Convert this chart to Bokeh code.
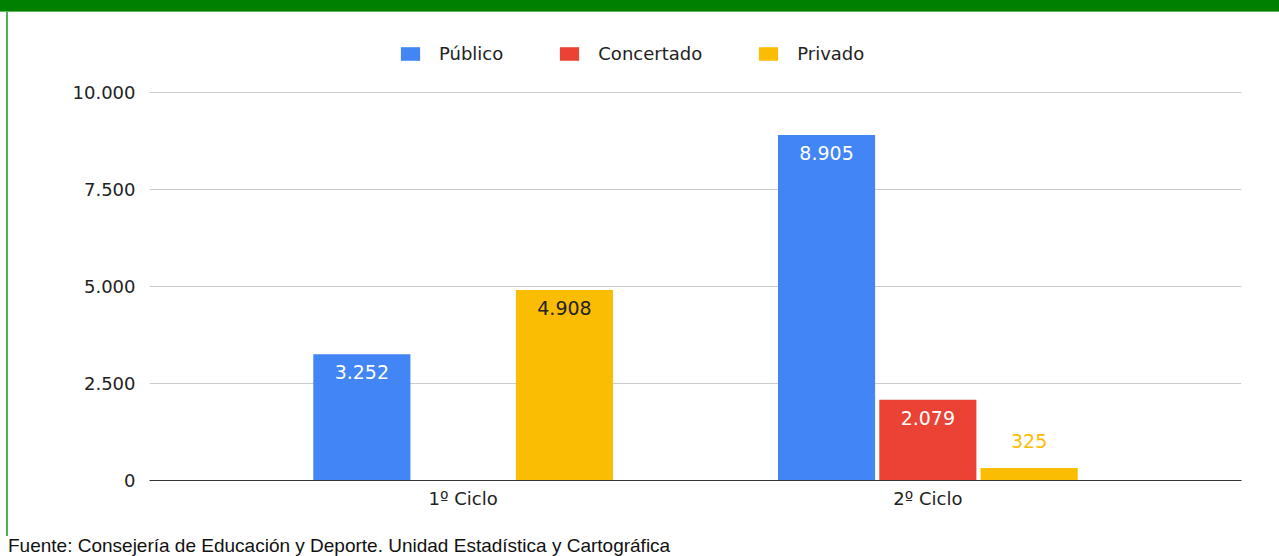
from bokeh.plotting import figure
from bokeh.layouts import column
from bokeh.models import (ColumnDataSource, FactorRange, Range1d, FixedTicker, LabelSet,
                          Legend, LegendItem, Div)
from bokeh.transform import dodge
from bokeh.embed import file_html
from bokeh.resources import INLINE
from bokeh.core.properties import value

# ---- data ----
categories = ["1º Ciclo", "2º Ciclo"]
series = ["Público", "Concertado", "Privado"]
publico = [3252, 8905]
concertado = [0, 2079]
privado = [4908, 325]
y_ticks = [0, 2500, 5000, 7500, 10000]
y_tick_labels = ["0", "2.500", "5.000", "7.500", "10.000"]
footer = "Fuente: Consejería de Educación y Deporte. Unidad Estadística y Cartográfica"

# ---- style ----
colors = ["#4285F4", "#EA4335", "#FBBC04"]
inside_text = ["#ffffff", "#ffffff", "#222222"]
offsets = [-0.218, 0.0, 0.218]
bar_w = 0.209
FONT = "DejaVu Sans"
TXT = "#222222"

W = 1279
BAND_H = 12
FOOT_H = 20
FIG_H = 556 - BAND_H - FOOT_H          # 524
BOTTOM = 56                              # space for x labels below the frame
FRAME_H = FIG_H - BOTTOM                 # frame spans from the band down to the axis
TOP_PAD = 80                             # px between frame top and the top gridline
y_end = y_ticks[-1] * FRAME_H / (FRAME_H - TOP_PAD)

fig = figure(width=W, height=FIG_H, output_backend="svg", toolbar_location=None,
             x_range=FactorRange(*categories, range_padding=0.175, range_padding_units="absolute"),
             y_range=Range1d(0, y_end),
             min_border_left=149, min_border_right=38, min_border_top=0, min_border_bottom=BOTTOM,
             outline_line_color=None, background_fill_color="white",
             border_fill_color="white", border_fill_alpha=0, margin=0)

renderers = []
for name, vals, col, tcol, off in zip(series, [publico, concertado, privado], colors, inside_text, offsets):
    txt = [("" if v == 0 else f"{v:,}".replace(",", ".")) for v in vals]
    inside = [v >= 1000 for v in vals]
    src = ColumnDataSource(dict(
        cat=categories, val=vals, txt=txt,
        yoff=[-18 if i else 27 for i in inside],
        tcol=[tcol if i else col for i in inside],
    ))
    r = fig.vbar(x=dodge("cat", off, range=fig.x_range), top="val", width=bar_w, source=src,
                 fill_color=col, line_color=None)
    renderers.append(r)
    fig.add_layout(LabelSet(x=dodge("cat", off, range=fig.x_range), y="val", text="txt", source=src,
                            y_offset="yoff", text_color="tcol", text_align="center",
                            text_baseline="middle", text_font_size="19px", text_font=value(FONT)))

# axes
fig.yaxis.ticker = FixedTicker(ticks=y_ticks)
fig.yaxis.major_label_overrides = dict(zip(y_ticks, y_tick_labels))
fig.yaxis.axis_line_color = None
fig.yaxis.major_tick_line_color = None
fig.yaxis.minor_tick_line_color = None
fig.yaxis.major_tick_out = 0
fig.yaxis.major_label_standoff = 14
fig.yaxis.major_label_text_font_size = "18px"
fig.yaxis.major_label_text_font = FONT
fig.yaxis.major_label_text_color = TXT

fig.xaxis.axis_line_color = "#333333"
fig.xaxis.axis_line_width = 1
fig.xaxis.major_tick_line_color = None
fig.xaxis.major_tick_out = 0
fig.xaxis.major_label_standoff = 7
fig.xaxis.major_label_text_font_size = "18px"
fig.xaxis.major_label_text_font = FONT
fig.xaxis.major_label_text_color = TXT

fig.xgrid.grid_line_color = None
fig.ygrid.ticker = FixedTicker(ticks=y_ticks)
fig.ygrid.grid_line_color = "#cccccc"
fig.ygrid.grid_line_width = 1

legend = Legend(items=[LegendItem(label=s, renderers=[r]) for s, r in zip(series, renderers)],
                orientation="horizontal", location=(249, FRAME_H - 52),
                border_line_color=None, background_fill_alpha=0,
                glyph_width=24, glyph_height=17, label_standoff=17, spacing=54,
                label_text_font_size="18px", label_text_font=FONT, label_text_color=TXT,
                label_height=17, padding=0, margin=0)
fig.add_layout(legend, "center")

band = Div(text="", width=W, height=BAND_H, margin=0,
           styles={"background-color": "#008000", "box-shadow": "inset 0 -1px 0 #5cb85c"})
foot = Div(text=f'<div style="padding-left:8px;white-space:nowrap">{footer}</div>',
           width=W, height=FOOT_H, margin=0,
           styles={"font-family": "Liberation Sans, Arial, sans-serif", "font-size": "19px",
                   "line-height": "20px", "color": "#111111", "background-color": "white",
                   "overflow": "hidden"})

p = column(band, fig, foot, spacing=0, margin=0,
           styles={"background": "linear-gradient(90deg, #ffffff 0px, #ffffff 6px, #4caf50 6px, "
                                 "#4caf50 8px, #ffffff 8px)"})

open("out.html", "w").write(file_html(p, INLINE))
